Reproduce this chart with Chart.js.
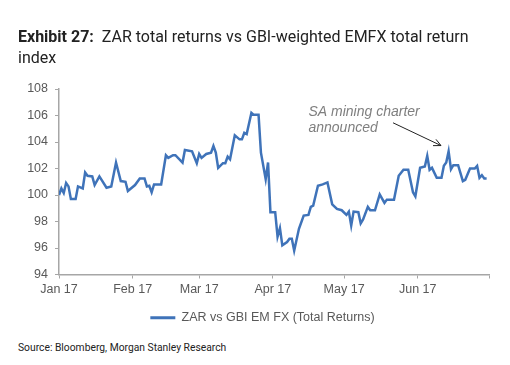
<!DOCTYPE html>
<html>
<head>
<meta charset="utf-8">
<script src="https://cdn.jsdelivr.net/npm/chart.js@4.4.1/dist/chart.umd.min.js"></script>
<style>
  body { margin: 0; background: #fff; }
  #wrap { position: relative; width: 510px; height: 365px; overflow: hidden; }
  #chart { position: absolute; left: 0; top: 0; }
  .title { position: absolute; left: 18px; top: 26px; font-family: Roboto, sans-serif; font-size: 16px; line-height: 21px; color: #222; width: 480px; }
  .title b { font-weight: 700; }
  .source { position: absolute; left: 18px; top: 341px; font-family: Roboto, sans-serif; font-size: 10.3px; color: #222; }
</style>
</head>
<body>
<div id="wrap">
  <canvas id="chart" width="510" height="340"></canvas>
  <div class="title"><b>Exhibit 27:</b>&nbsp; ZAR total returns vs GBI-weighted EMFX total return index</div>
  <div class="source">Source: Bloomberg, Morgan Stanley Research</div>
</div>
<script>
// days since 1 Jan 2017
const days = [0, 1, 2, 3, 4, 5, 7, 8, 10, 11, 12, 14, 15, 17, 20, 22, 24, 26, 28, 29,
  32, 34, 36, 37, 38, 39, 40, 43, 45, 46, 48, 49, 52, 53, 56, 58, 59, 60, 62, 64,
  65, 66, 67, 69, 70, 71, 72, 74, 76, 77, 78, 79, 81, 82, 84, 85, 87, 88, 89, 91,
  92, 93, 94, 96, 97, 98, 99, 101, 103, 105, 106, 107, 109, 111, 113, 115, 117, 119, 121, 122,
  123, 124, 126, 127, 128, 130, 131, 133, 135, 137, 138, 141, 143, 145, 147, 149, 150, 152, 154, 155,
  156, 157, 159, 161, 162, 163, 164, 165, 166, 168, 170, 171, 173, 175, 176, 177, 178, 179, 180];
const zarIndex = [100.0, 100.5, 100.15, 100.9, 100.65, 99.7, 99.7, 100.65, 100.5, 101.7, 101.45, 101.4, 100.75, 101.4, 100.55, 100.65, 102.45, 101.05, 101.0, 100.3,
  100.75, 101.25, 101.25, 100.65, 100.7, 100.2, 100.8, 100.8, 103.0, 102.8, 103.0, 103.0, 102.45, 103.4, 103.3, 102.4, 103.1, 102.8, 103.1, 103.2,
  103.7, 103.2, 102.05, 102.4, 102.4, 102.9, 102.7, 104.5, 104.2, 104.2, 104.7, 104.6, 106.2, 106.05, 106.05, 103.2, 101.2, 102.45, 98.7, 98.7,
  96.85, 97.5, 96.2, 96.45, 96.7, 96.7, 95.8, 97.45, 98.45, 98.5, 99.1, 99.2, 100.7, 100.8, 100.95, 99.3, 98.95, 98.85, 98.5, 98.75,
  97.7, 98.75, 98.7, 97.85, 98.15, 99.1, 98.85, 98.85, 100.05, 99.4, 99.65, 99.65, 101.45, 101.9, 101.9, 100.2, 99.9, 102.05, 102.15, 102.95,
  101.9, 102.05, 101.3, 101.3, 102.2, 102.45, 103.3, 101.95, 102.25, 102.25, 101.05, 101.15, 102.0, 102.0, 102.2, 101.3, 101.5, 101.25, 101.25];
const monthStarts = [0, 31, 59, 90, 120, 151, 181];
const monthLabels = ['Jan 17', 'Feb 17', 'Mar 17', 'Apr 17', 'May 17', 'Jun 17', ''];
const seriesName = 'ZAR vs GBI EM FX (Total Returns)';
const noteLines = ['SA mining charter', 'announced'];

const blue = '#3f73b9';
const axisGrey = '#a6a6a6';
const labelGrey = '#595959';

// text + arrow annotation, anchored in data units
const notePlugin = {
  id: 'note',
  afterLayout(chart) {
    // legend sits a bit right of the canvas centre in the original
    chart.legend.left += 18;
    chart.legend.right += 18;
  },
  afterDatasetsDraw(chart) {
    const { ctx, scales: { x, y } } = chart;
    ctx.save();
    ctx.font = 'italic 14px "Liberation Sans", Arial, sans-serif';
    ctx.fillStyle = '#7f7f7f';
    ctx.textBaseline = 'middle';
    ctx.fillText(noteLines[0], x.getPixelForValue(105), y.getPixelForValue(106.25));
    ctx.fillText(noteLines[1], x.getPixelForValue(105), y.getPixelForValue(105.05));

    const x0 = x.getPixelForValue(140.6), y0 = y.getPixelForValue(105.45);
    const x1 = x.getPixelForValue(160.8), y1 = y.getPixelForValue(103.73);
    ctx.strokeStyle = '#222';
    ctx.lineWidth = 1;
    ctx.beginPath();
    ctx.moveTo(x0, y0);
    ctx.lineTo(x1, y1);
    const a = Math.atan2(y1 - y0, x1 - x0);
    const len = 8;
    ctx.moveTo(x1 - len * Math.cos(a - 0.45), y1 - len * Math.sin(a - 0.45));
    ctx.lineTo(x1, y1);
    ctx.lineTo(x1 - len * Math.cos(a + 0.45), y1 - len * Math.sin(a + 0.45));
    ctx.stroke();
    ctx.restore();
  }
};

new Chart(document.getElementById('chart'), {
  type: 'line',
  data: {
    datasets: [{
      label: seriesName,
      data: days.map((d, i) => ({ x: d, y: zarIndex[i] })),
      borderColor: blue,
      backgroundColor: blue,
      borderWidth: 2.5,
      pointRadius: 0,
      tension: 0
    }]
  },
  options: {
    responsive: false,
    animation: false,
    layout: { padding: { left: 0, right: 21, top: 89, bottom: 6 } },
    plugins: {
      tooltip: { enabled: false },
      legend: {
        position: 'bottom',
        labels: {
          boxWidth: 25,
          boxHeight: 3,
          color: labelGrey,
          font: { family: '"Liberation Sans", Arial, sans-serif', size: 12.5 },
          generateLabels(chart) {
            const items = Chart.defaults.plugins.legend.labels.generateLabels(chart);
            items.forEach(it => { it.lineWidth = 0; it.fillStyle = blue; });
            return items;
          }
        }
      }
    },
    scales: {
      x: {
        type: 'linear',
        min: 0,
        max: 181,
        afterBuildTicks(scale) {
          scale.ticks = monthStarts.map(v => ({ value: v }));
        },
        ticks: {
          autoSkip: false,
          maxRotation: 0,
          padding: 4,
          color: labelGrey,
          font: { family: '"Liberation Sans", Arial, sans-serif', size: 12.5 },
          callback: (v) => monthLabels[monthStarts.indexOf(v)]
        },
        grid: { drawOnChartArea: false, tickLength: 4, color: axisGrey },
        border: { color: axisGrey, width: 1.5 }
      },
      y: {
        min: 94,
        max: 108,
        afterFit(scale) { scale.width = 59; },
        ticks: {
          stepSize: 2,
          padding: 7,
          color: labelGrey,
          font: { family: '"Liberation Sans", Arial, sans-serif', size: 12.5 }
        },
        grid: { drawOnChartArea: false, tickLength: 4, color: axisGrey },
        border: { color: axisGrey, width: 1.5 }
      }
    }
  },
  plugins: [notePlugin]
});
</script>
</body>
</html>
